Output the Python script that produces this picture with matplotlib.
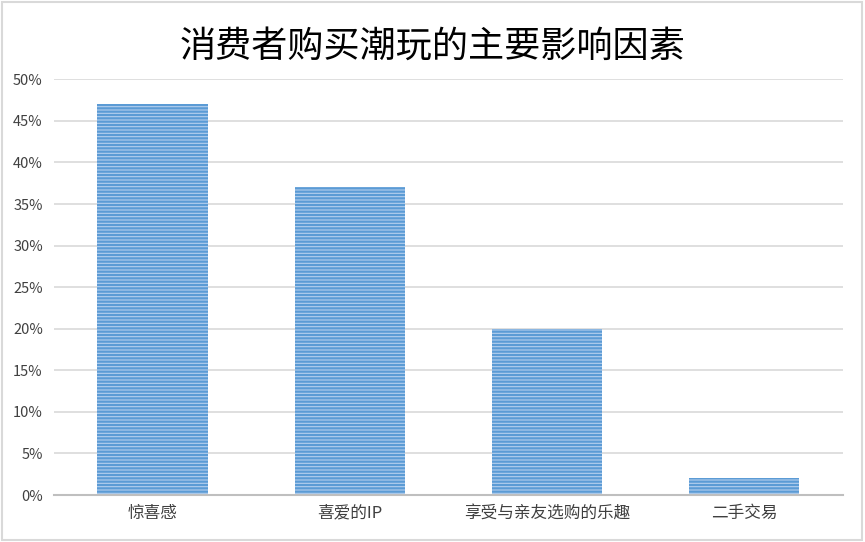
import matplotlib.pyplot as plt
from matplotlib.patches import Rectangle
from matplotlib.ticker import MultipleLocator, PercentFormatter

plt.rcParams['font.family'] = ['Noto Sans CJK SC', 'DejaVu Sans']
plt.rcParams['hatch.linewidth'] = 1.6

categories = ['惊喜感', '喜爱的IP', '享受与亲友选购的乐趣', '二手交易']
shares = [0.47, 0.37, 0.20, 0.02]
title = '消费者购买潮玩的主要影响因素'

fig = plt.figure(figsize=(8.65, 5.42), dpi=100)
ax = fig.add_axes([0.0624, 0.0867, 0.912, 0.767])

# striped bars: pale blue fill with dense horizontal hatch lines
ax.bar(range(len(categories)), shares, width=0.56, color='#b4cfee',
       edgecolor='#5b9bd5', linewidth=0, hatch='-----', zorder=3)

ax.set_xlim(-0.5, len(categories) - 0.5)
ax.set_ylim(0, 0.5)
ax.yaxis.set_major_locator(MultipleLocator(0.05))
ax.yaxis.set_major_formatter(PercentFormatter(1.0, decimals=0))
ax.set_xticks(range(len(categories)))
ax.set_xticklabels(categories, fontsize=12, color='#404040')
ax.tick_params(axis='y', labelsize=10.5, labelcolor='#404040', length=0, pad=8)
ax.tick_params(axis='x', length=0, pad=7)
ax.grid(axis='y', color='#d9d9d9', linewidth=1.2, zorder=0)

for side in ['top', 'right', 'left']:
    ax.spines[side].set_visible(False)
ax.spines['bottom'].set_color('#bfbfbf')
ax.spines['bottom'].set_linewidth(1.5)
ax.spines['bottom'].set_zorder(4)

fig.text(0.5, 0.913, title, ha='center', va='center', fontsize=26, color='black')

# outer frame around the whole chart
fig.patches.append(Rectangle((0.002, 0.003), 0.995, 0.993, transform=fig.transFigure,
                             fill=False, edgecolor='#d9d9d9', linewidth=1.5))

fig.savefig('out.png', dpi=100)
